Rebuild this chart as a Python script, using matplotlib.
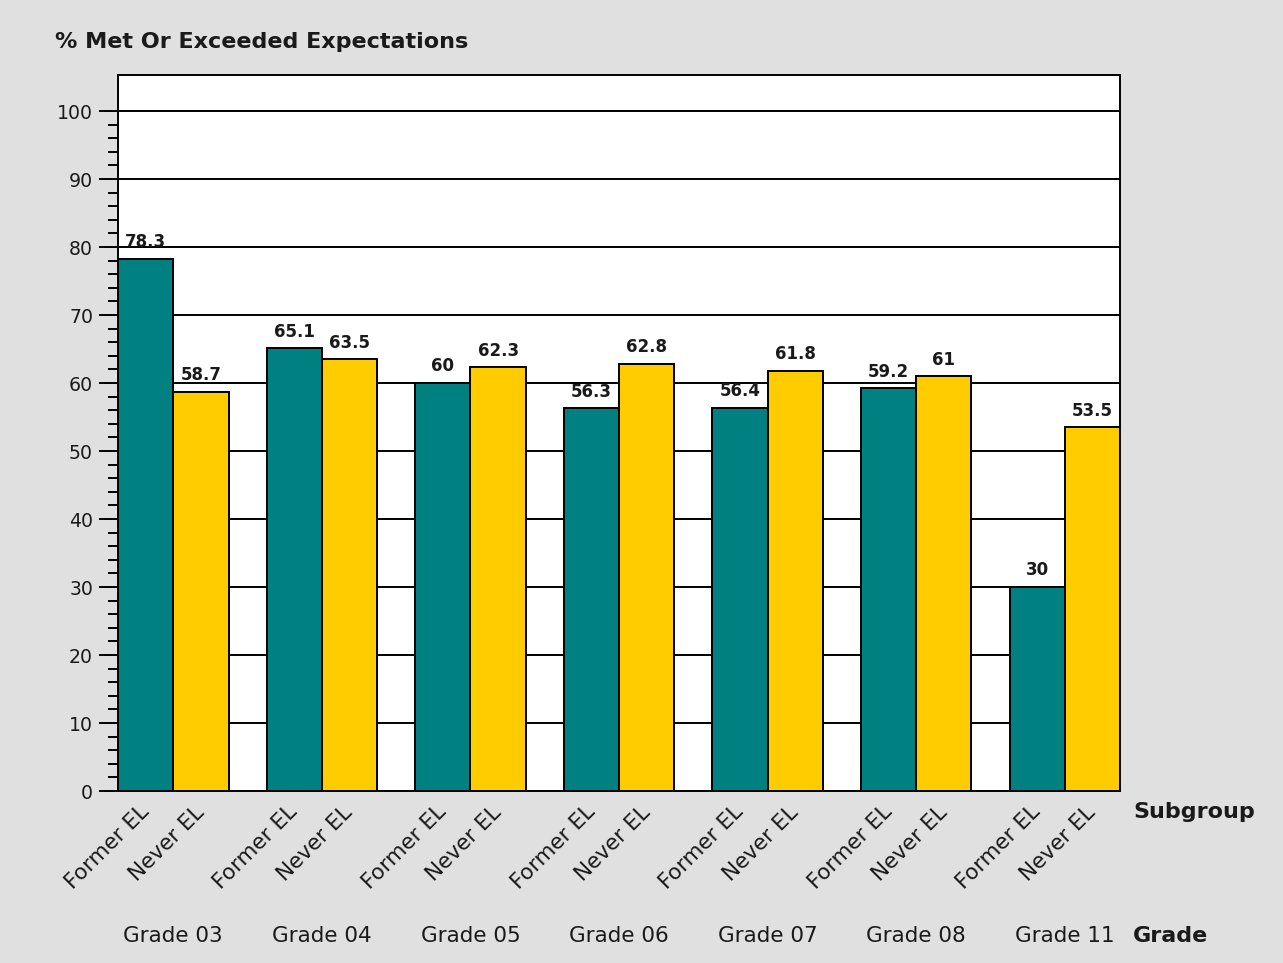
import matplotlib.pyplot as plt
from matplotlib.ticker import MultipleLocator, FixedLocator
import numpy as np

grades = ['Grade 03', 'Grade 04', 'Grade 05', 'Grade 06', 'Grade 07', 'Grade 08', 'Grade 11']
subgroups = ['Former EL', 'Never EL']
former_el = [78.3, 65.1, 60, 56.3, 56.4, 59.2, 30]
never_el = [58.7, 63.5, 62.3, 62.8, 61.8, 61, 53.5]
colors = ['#008080', '#ffcc00']

plt.rcParams['font.family'] = ['DejaVu Sans']
fig = plt.figure(figsize=(12.83, 9.63), dpi=100, facecolor='#e0e0e0')
ax = fig.add_axes([0.0920, 0.1786, 0.7810, 0.7435])

spacing = 2.69
centers = np.arange(len(grades)) * spacing
w = 1.0

for vals, off, col in [(former_el, -0.5, colors[0]), (never_el, 0.5, colors[1])]:
    bars = ax.bar(centers + off, vals, width=w, color=col, edgecolor='black',
                  linewidth=1.4, zorder=3)
    for b, v in zip(bars, vals):
        ax.annotate(f'{v:g}', (b.get_x() + b.get_width() / 2, v),
                    xytext=(0, 5.5), textcoords='offset points',
                    ha='center', va='bottom', fontsize=12, fontweight='bold',
                    color='#1a1a1a', zorder=4)

ax.set_xlim(centers[0] - 1, centers[-1] + 1)
ax.set_ylim(0, 105.3)
ax.yaxis.set_major_locator(MultipleLocator(10))
ax.yaxis.set_minor_locator(FixedLocator(np.arange(0, 101, 2)))
ax.tick_params(axis='y', which='major', length=14, width=1.4, labelsize=13.6, pad=4,
               colors='black', labelcolor='#1a1a1a')
ax.tick_params(axis='y', which='minor', length=7.3, width=1.4)
ax.grid(axis='y', which='major', color='black', linewidth=1.4, zorder=1)
for s in ax.spines.values():
    s.set_linewidth(1.4)

# subgroup tick labels
xt = np.concatenate([centers - 0.5, centers + 0.5])
xl = [subgroups[0]] * len(grades) + [subgroups[1]] * len(grades)
ax.set_xticks(xt)
ax.set_xticklabels(xl, rotation=45, ha='right', va='center', rotation_mode='anchor',
                   fontsize=15.5, color='#1a1a1a')
ax.tick_params(axis='x', length=0, pad=13)

for c, g in zip(centers, grades):
    ax.text(c, -0.2025, g, transform=ax.get_xaxis_transform(), ha='center', va='center',
            fontsize=15.5, color='#1a1a1a')

fig.text(1133 / 1283, 1 - 812 / 963, 'Subgroup', ha='left', va='center', fontsize=16,
         fontweight='bold', color='#1a1a1a')
fig.text(1133 / 1283, 1 - 936 / 963, 'Grade', ha='left', va='center', fontsize=16,
         fontweight='bold', color='#1a1a1a')
fig.text(55 / 1283, 1 - 42 / 963, '% Met Or Exceeded Expectations', ha='left', va='center',
         fontsize=16, fontweight='bold', color='#1a1a1a')

fig.savefig('out.png', dpi=100, facecolor=fig.get_facecolor())
